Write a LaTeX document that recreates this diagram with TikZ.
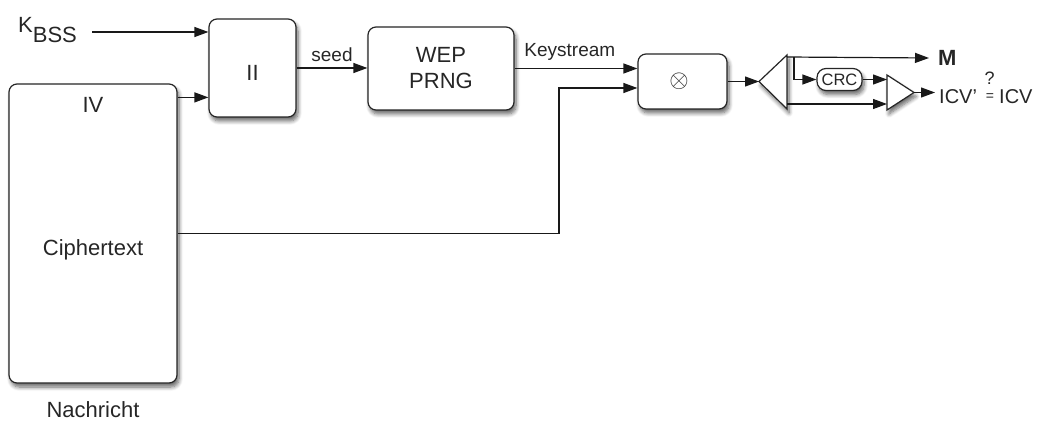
\documentclass[tikz,border=0pt]{standalone}
\usepackage{fontspec}
\setmainfont{Liberation Sans}
\usetikzlibrary{arrows.meta,shadows.blur,calc}
\begin{document}
\begin{tikzpicture}[x=1pt,y=-1pt,
  shade/.style={blur shadow={shadow xshift=2pt,shadow yshift=-4pt,shadow blur steps=7,shadow blur radius=4pt,shadow opacity=60}},
  box/.style={draw=black!85,line width=1.2pt,rounded corners=8pt,fill=white,shade,inner sep=0pt},
  conn/.style={draw=black!90,line width=1.2pt,-{Triangle[length=14pt,width=10pt]}},
  txt/.style={font=\fontsize{22}{25}\selectfont,inner sep=0pt,text=black!85},
  small/.style={font=\fontsize{19}{22}\selectfont,inner sep=0pt,text=black!85},
  outt/.style={font=\fontsize{20}{23}\selectfont,inner sep=0pt,text=black!85},
  tri/.style={draw=black!85,line width=1.2pt,fill=white,line join=miter,shade}]
\useasboundingbox (0,0) rectangle (1040,430);
% boxes
\node[box,minimum width=168pt,minimum height=299pt] (msg) at (93,233.5) {};
\node[txt] (iv) at (93,105) {IV};
\node[txt] (ct) at (93,250) {Ciphertext};
\node[txt] (nach) at (93,410) {Nachricht};
\node[box,minimum width=87pt,minimum height=98pt] (ii) at (252.5,68) {};
\node[txt] (iit) at (252.5,73) {II};
\node[box,minimum width=146pt,minimum height=83pt,txt,align=center] (wep) at (441,68.5) {WEP\\[1pt]PRNG};
\node[box,minimum width=89pt,minimum height=55pt] (xor) at (682.5,81.5) {};
\node[txt,font=\fontsize{26}{28}\selectfont] (xort) at (679,81) {$\otimes$};
\node[box,rounded corners=9pt,minimum width=45pt,minimum height=22pt,font=\fontsize{16.5}{18}\selectfont,text=black!85] (crc) at (839.5,79.5) {CRC};
% K_BSS
\node[txt,anchor=west] (kbss) at (18,30) {K\raisebox{-10pt}{BSS}};
\coordinate (k0) at (92,32);
% triangles
\coordinate (sT) at (759,81.5);
\coordinate (sA) at (787,55);
\coordinate (sB) at (787,109);
\filldraw[tri] (sT) -- (sA) -- (sB) -- cycle;
\coordinate (cA) at (887,75);
\coordinate (cB) at (887,110);
\coordinate (cT) at (914,92.5);
\filldraw[tri] (cA) -- (cT) -- (cB) -- cycle;
\coordinate (sTop) at (787,57);
\coordinate (sBot) at (787,104);
\coordinate (br) at (794,57);
% outputs
\node[anchor=west,inner xsep=9pt,inner ysep=0pt,font=\fontsize{22}{24}\selectfont\bfseries,text=black!85] (M) at (929,58) {M};
\node[outt,anchor=west,inner xsep=4pt] (icv1) at (935,97) {ICV'};
\node[font=\fontsize{18}{20}\selectfont,inner sep=0pt,text=black!85] (q) at (989.5,78.5) {?};
\node[font=\fontsize{14}{16}\selectfont,inner sep=0pt,text=black!85] (eq) at (990,97.5) {=};
\node[outt,anchor=west] (icv2) at (999,97) {ICV};
% connectors
\draw[conn] (k0) -- (k0 -| ii.west);
\draw[conn] ([yshift=-14pt]msg.north east) coordinate (iv0) -- (iv0 -| ii.west);
\draw[conn] (ii.east) -- node[small,above=6pt] {seed} (ii.east -| wep.west);
\draw[conn] (wep.east) -- node[small,above=7pt,pos=0.45] {Keystream} (wep.east -| xor.west);
\coordinate (bend) at (559,88);
\draw[conn] (msg.east) -| (bend) -- (bend -| xor.west);
\draw[conn] (xor.east) -- (sT);
\draw[conn] (sTop) -- (M.west);
\draw[conn] (br) |- (crc.west);
\draw[conn] (crc.east) -- (crc.east -| cA);
\draw[conn] (sBot) -- (sBot -| cA);
\draw[conn] (cT) -- (cT -| icv1.west);
\end{tikzpicture}
\end{document}
